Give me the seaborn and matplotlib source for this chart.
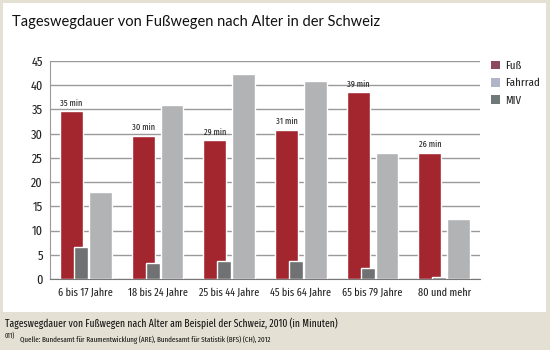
import seaborn as sns
import pandas as pd
import matplotlib.pyplot as plt
from matplotlib.patches import Patch, Rectangle

# Werte (Minuten)
altersgruppen = ['6 bis 17 Jahre', '18 bis 24 Jahre', '25 bis 44 Jahre',
                 '45 bis 64 Jahre', '65 bis 79 Jahre', '80 und mehr']
fuss = [34.6, 29.6, 28.6, 30.8, 38.6, 26.0]
fahrrad = [17.9, 35.9, 42.3, 40.9, 26.0, 12.3]
miv = [6.7, 3.2, 3.7, 3.8, 2.3, 0.4]
y_ticks = [0, 5, 10, 15, 20, 25, 30, 35, 40, 45]

df = pd.DataFrame({
    'Alter': altersgruppen * 3,
    'Minuten': fuss + miv + fahrrad,
    'Art': ['Fuß'] * 6 + ['MIV'] * 6 + ['Fahrrad'] * 6,
})

farben = {'Fuß': '#a3262e', 'MIV': '#707172', 'Fahrrad': '#b1b3b4'}
legende_farben = {'Fuß': '#8c4a62', 'Fahrrad': '#b0b6c8', 'MIV': '#6f7a78'}

sns.set_style('white')
plt.rcParams['font.family'] = ['Fira Sans Extra Condensed', 'DejaVu Sans']

fig = plt.figure(figsize=(5.5, 3.5), dpi=100)
fig.patch.set_facecolor('#e4e0d3')
# weisses Feld hinter dem Diagramm
fig.patches.append(Rectangle((3 / 550, 1 - 312 / 350), 543 / 550, 309 / 350,
                             transform=fig.transFigure, facecolor='white',
                             edgecolor='none', zorder=-5))

ax = fig.add_axes([50 / 550, 1 - 279 / 350, 430 / 550, 218 / 350])
ax.set_facecolor('none')

sns.barplot(data=df, x='Alter', y='Minuten', hue='Art',
            hue_order=['Fuß', 'MIV', 'Fahrrad'], order=altersgruppen,
            palette=farben, saturation=1, width=0.72, edgecolor='white',
            linewidth=1.0, legend=False, ax=ax, zorder=3)

# Balkenbreiten anpassen: MIV schmal und ueberlappend
n = len(altersgruppen)
bars = ax.patches
for p in bars[:n]:          # Fuß
    p.set_width(0.32)
    p.set_zorder(3)
for p in bars[n:2 * n]:     # MIV
    c = p.get_x() + p.get_width() / 2
    p.set_x(c - 0.167)
    p.set_width(0.195)
    p.set_zorder(4)
for p in bars[2 * n:3 * n]:  # Fahrrad
    c = p.get_x()
    p.set_x(c - 0.078)
    p.set_width(0.32)
    p.set_zorder(3)

# Beschriftung ueber den Fuß-Balken
for p, v in zip(bars[:n], fuss):
    ax.text(p.get_x() + p.get_width() / 2, v + 0.8, f'{round(v)} min',
            ha='center', va='bottom', fontsize=6.5, color='#222222', zorder=5)

ax.set_xlim(-0.5, n - 0.5)
ax.set_ylim(0, 45)
ax.set_yticks(y_ticks)
ax.yaxis.grid(True, color='#9a9a9a', linewidth=1.0, zorder=0)
ax.set_axisbelow(True)
ax.set_xlabel('')
ax.set_ylabel('')
for s in ['top', 'right']:
    ax.spines[s].set_visible(False)
ax.spines['left'].set_color('#9a9a9a')
ax.spines['bottom'].set_color('#777777')
ax.tick_params(axis='y', length=0, labelsize=9.5, colors='#222222', pad=5)
ax.tick_params(axis='x', length=0, labelsize=8, colors='#222222', pad=6)

handles = [Patch(facecolor=legende_farben[k], edgecolor='none') for k in ['Fuß', 'Fahrrad', 'MIV']]
fig.legend(handles, ['Fuß', 'Fahrrad', 'MIV'], loc='upper left',
           bbox_to_anchor=(486 / 550, 1 - 56 / 350), frameon=False,
           fontsize=8.5, handlelength=0.75, handleheight=0.75,
           handletextpad=0.5, labelspacing=0.55, borderaxespad=0)

fig.text(12 / 550, 1 - 22 / 350, 'Tageswegdauer von Fußwegen nach Alter in der Schweiz',
         fontsize=10.5, va='center', ha='left', color='#111111',
         family=['Lato', 'DejaVu Sans'])
fig.text(5 / 550, 1 - 323 / 350,
         'Tageswegdauer von Fußwegen nach Alter am Beispiel der Schweiz, 2010 (in Minuten)',
         fontsize=7.5, va='center', ha='left', color='#111111')
fig.text(5 / 550, 1 - 339 / 350, '011)', fontsize=5, va='bottom', ha='left', color='#111111')
fig.text(20 / 550, 1 - 340 / 350,
         'Quelle: Bundesamt für Raumentwicklung (ARE), Bundesamt für Statistik (BFS) (CH), 2012',
         fontsize=5.5, va='center', ha='left', color='#111111')

fig.savefig('out.png', dpi=100)
